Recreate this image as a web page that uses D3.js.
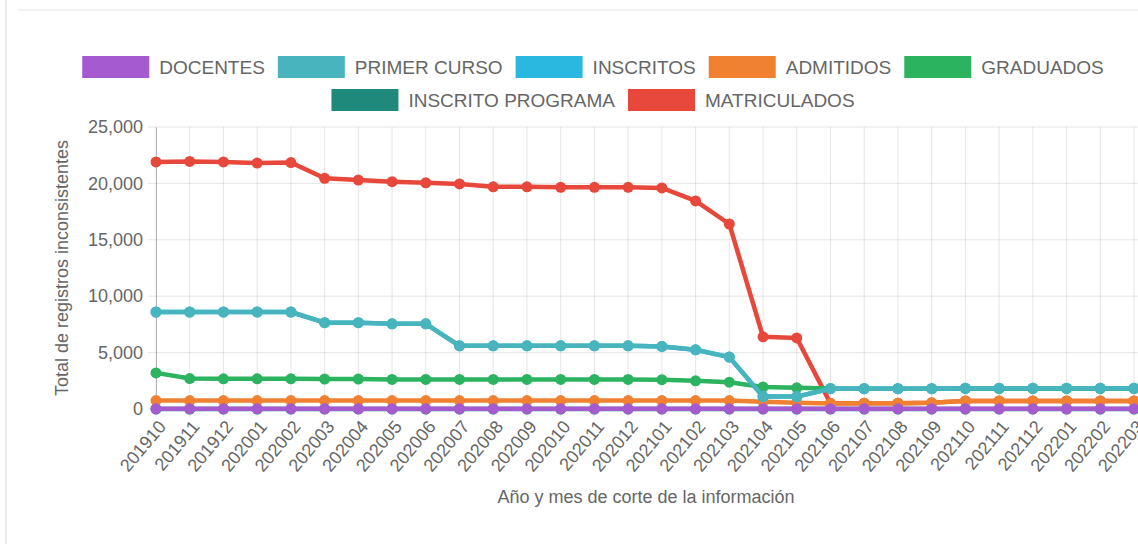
<!DOCTYPE html>
<html>
<head>
<meta charset="utf-8">
<script src="https://cdn.jsdelivr.net/npm/d3@7"></script>
<style>
  html, body { margin: 0; padding: 0; background: #fff; }
  svg { display: block; font-family: "Liberation Sans", Arial, Helvetica, sans-serif; }
</style>
</head>
<body>
<svg id="chart" width="1138" height="544"></svg>
<script>
// Year-month cut labels
const months = ['201910', '201911', '201912', '202001', '202002', '202003', '202004', '202005',
	'202006', '202007', '202008', '202009', '202010', '202011', '202012', '202101', '202102',
	'202103', '202104', '202105', '202106', '202107', '202108', '202109', '202110', '202111',
	'202112', '202201', '202202', '202203'];

const docentes = [20, 20, 20, 20, 20, 20, 20, 20, 20, 20, 20, 20, 20, 20, 20,
	20, 20, 20, 20, 20, 20, 20, 20, 20, 20, 20, 20, 20, 20, 20];
const primerCurso = [8600, 8600, 8600, 8600, 8600, 7650, 7650, 7550, 7550, 5600, 5600, 5600, 5600, 5600, 5600,
	5550, 5250, 4600, 1100, 1100, 1800, 1800, 1800, 1800, 1850, 1850, 1850, 1850, 1850, 1850];
const inscritos = [8600, 8600, 8600, 8600, 8600, 7650, 7650, 7550, 7550, 5600, 5600, 5600, 5600, 5600, 5600,
	5550, 5250, 4600, 1100, 1100, 1800, 1800, 1800, 1800, 1850, 1850, 1850, 1850, 1850, 1850];
const admitidos = [750, 750, 750, 750, 750, 750, 750, 750, 750, 750, 750, 750, 750, 750, 750,
	750, 750, 750, 650, 550, 480, 520, 520, 550, 720, 720, 720, 720, 720, 720];
const graduados = [3200, 2700, 2680, 2680, 2680, 2650, 2650, 2620, 2620, 2620, 2620, 2620, 2620, 2620, 2620,
	2600, 2500, 2380, 1950, 1880, 1820, 1800, 1800, 1800, 1800, 1800, 1800, 1800, 1800, 1800];
const inscritoPrograma = [0, 0, 0, 0, 0, 0, 0, 0, 0, 0, 0, 0, 0, 0, 0,
	0, 0, 0, 0, 0, 0, 0, 0, 0, 0, 0, 0, 0, 0, 0];
const matriculados = [21900, 21950, 21900, 21800, 21850, 20450, 20300, 20150, 20050, 19950, 19700, 19700, 19650, 19650, 19650,
	19600, 18450, 16400, 6400, 6300, 500, 520, 520, 550, 720, 720, 720, 720, 720, 720];

const yTicks = [0, 5000, 10000, 15000, 20000, 25000];

// legend order; the first dataset ends up drawn on top
const series = [
	{ name: 'DOCENTES', values: docentes, color: '#a55bcf' },
	{ name: 'PRIMER CURSO', values: primerCurso, color: '#48b5be' },
	{ name: 'INSCRITOS', values: inscritos, color: '#2bb8e0' },
	{ name: 'ADMITIDOS', values: admitidos, color: '#ef8130' },
	{ name: 'GRADUADOS', values: graduados, color: '#2bb35f' },
	{ name: 'INSCRITO PROGRAMA', values: inscritoPrograma, color: '#1f8a7b' },
	{ name: 'MATRICULADOS', values: matriculados, color: '#e8473c' }
];

const svg = d3.select('#chart');
const textColor = '#666';
const fontSize = 18;

// page frame lines
svg.append('line').attr('x1', 6).attr('x2', 6).attr('y1', 0).attr('y2', 544)
	.attr('stroke', '#e6e6e6').attr('stroke-width', 1.5);
svg.append('line').attr('x1', 18).attr('x2', 1138).attr('y1', 10).attr('y2', 10)
	.attr('stroke', '#eeeeee').attr('stroke-width', 1.5);

const x = d3.scalePoint().domain(months).range([156, 1134]);
const y = d3.scaleLinear().domain([0, 25000]).range([409, 127]);

// grid
const grid = svg.append('g');
grid.selectAll('line.v').data(months).join('line')
	.attr('class', 'v')
	.attr('x1', d => x(d)).attr('x2', d => x(d))
	.attr('y1', y(25000)).attr('y2', y(0) + 8)
	.attr('stroke', 'rgba(0,0,0,0.1)').attr('stroke-width', 1);
grid.selectAll('line.h').data(yTicks).join('line')
	.attr('class', 'h')
	.attr('x1', x.range()[0] - 8).attr('x2', 1138)
	.attr('y1', d => y(d)).attr('y2', d => y(d))
	.attr('stroke', 'rgba(0,0,0,0.1)').attr('stroke-width', 1);

// y axis
const yAxis = svg.append('g')
	.attr('transform', `translate(${x.range()[0]},0)`)
	.call(d3.axisLeft(y).tickValues(yTicks).tickFormat(d3.format(',')).tickSize(0).tickPadding(13));
yAxis.select('.domain').attr('stroke', 'rgba(0,0,0,0.25)');
yAxis.selectAll('text').attr('fill', textColor).style('font-size', fontSize + 'px')
	.style('font-family', '"Liberation Sans", Arial, sans-serif');

// x axis labels (rotated)
svg.append('g').selectAll('text').data(months).join('text')
	.attr('transform', d => `translate(${x(d) + 6},${y(0) + 14}) rotate(-50)`)
	.attr('text-anchor', 'end')
	.attr('dy', '0.35em')
	.attr('fill', textColor)
	.style('font-size', fontSize + 'px')
	.text(d => d);

// axis titles
svg.append('text')
	.attr('transform', `translate(62,${(y(0) + y(25000)) / 2}) rotate(-90)`)
	.attr('text-anchor', 'middle').attr('dy', '0.35em')
	.attr('fill', textColor).style('font-size', fontSize + 'px')
	.text('Total de registros inconsistentes');
svg.append('text')
	.attr('x', 646).attr('y', 497)
	.attr('text-anchor', 'middle').attr('dy', '0.35em')
	.attr('fill', textColor).style('font-size', fontSize + 'px')
	.text('Año y mes de corte de la información');

// lines and points, last dataset first
const line = d3.line().x((d, i) => x(months[i])).y(d => y(d));
const plot = svg.append('g');
series.slice().reverse().forEach(s => {
	const g = plot.append('g');
	g.append('path').datum(s.values)
		.attr('d', line)
		.attr('fill', 'none')
		.attr('stroke', s.color)
		.attr('stroke-width', 4.5)
		.attr('stroke-linejoin', 'round');
	g.selectAll('circle').data(s.values).join('circle')
		.attr('cx', (d, i) => x(months[i]))
		.attr('cy', d => y(d))
		.attr('r', 5.5)
		.attr('fill', s.color);
});

// legend, two centred rows
const legendRows = [series.slice(0, 5), series.slice(5)];
const boxW = 67, boxH = 22, boxGap = 10, itemGap = 13, legendCx = 593, legendFont = 19;
legendRows.forEach((row, r) => {
	const rowG = svg.append('g');
	const top = 56 + r * 33;
	let cursor = 0;
	row.forEach(s => {
		const item = rowG.append('g').attr('transform', `translate(${cursor},0)`);
		item.append('rect')
			.attr('x', 0).attr('y', top).attr('width', boxW).attr('height', boxH)
			.attr('fill', s.color);
		const t = item.append('text')
			.attr('x', boxW + boxGap).attr('y', top + boxH / 2).attr('dy', '0.35em')
			.attr('fill', textColor).style('font-size', legendFont + 'px')
			.text(s.name);
		cursor += boxW + boxGap + t.node().getComputedTextLength() + itemGap;
	});
	const width = cursor - itemGap;
	rowG.attr('transform', `translate(${legendCx - width / 2},0)`);
});
</script>
</body>
</html>
